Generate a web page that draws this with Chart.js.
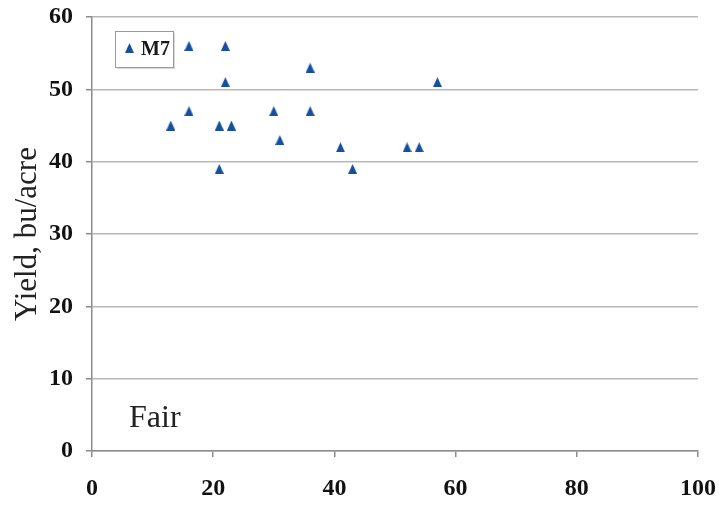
<!DOCTYPE html>
<html>
<head>
<meta charset="utf-8">
<script src="https://cdn.jsdelivr.net/npm/chart.js@4.4.1/dist/chart.umd.min.js"></script>
<style>
  html, body { margin: 0; padding: 0; background: #ffffff; }
  #wrap { width: 719px; height: 508px; position: relative; }
</style>
</head>
<body>
<div id="wrap"><canvas id="chart" width="719" height="508"></canvas></div>
<script>
// Field observations for hybrid M7
const seriesName = 'M7';
const xValues = [13, 16, 16, 21, 21, 22, 22, 23, 30, 31, 36, 36, 41, 43, 52, 54, 57];
const yieldValues = [45, 56, 47, 45, 39, 56, 51, 45, 47, 43, 53, 47, 42, 39, 42, 42, 51];
const xTicks = [0, 20, 40, 60, 80, 100];
const yTicks = [0, 10, 20, 30, 40, 50, 60];
const yTitle = 'Yield, bu/acre';
const panelLabel = 'Fair';

const markerColor = '#14509e';

// Slightly tall triangle marker
function makeTriangle(w, h, color) {
  const c = document.createElement('canvas');
  c.width = w; c.height = h;
  const g = c.getContext('2d');
  g.fillStyle = color;
  g.beginPath();
  g.moveTo(w / 2, 0);
  g.lineTo(w, h);
  g.lineTo(0, h);
  g.closePath();
  g.fill();
  return c;
}
const triangle = makeTriangle(9, 10, markerColor);

const points = xValues.map((x, i) => ({ x: x, y: yieldValues[i] }));

// Boxed legend inside the plot and the panel caption
const overlay = {
  id: 'overlay',
  afterDatasetsDraw(chart) {
    const ctx = chart.ctx;
    const a = chart.chartArea;
    ctx.save();
    // legend box
    const bx = a.left + 23, by = a.top + 14, bw = 58, bh = 36;
    ctx.fillStyle = '#d8d8d8';
    ctx.fillRect(bx + 2, by + 2, bw, bh);
    ctx.fillStyle = '#ffffff';
    ctx.fillRect(bx, by, bw, bh);
    ctx.strokeStyle = '#9a9a9a';
    ctx.lineWidth = 1;
    ctx.strokeRect(bx + 0.5, by + 0.5, bw, bh);
    const ds = chart.data.datasets[0];
    ctx.drawImage(triangle, bx + 10, by + 12);
    ctx.fillStyle = '#1a1a1a';
    ctx.font = 'bold 20px "Liberation Serif", "DejaVu Serif", serif';
    ctx.textBaseline = 'middle';
    ctx.textAlign = 'left';
    ctx.fillText(ds.label, bx + 26, by + bh / 2 + 1);
    // panel caption
    ctx.font = '32px "Liberation Serif", "DejaVu Serif", serif';
    ctx.textBaseline = 'alphabetic';
    ctx.fillStyle = '#222222';
    ctx.fillText(panelLabel, a.left + 37, a.bottom - 24);
    ctx.restore();
  }
};

const tickFont = { family: '"Liberation Serif", "DejaVu Serif", serif', size: 24, weight: 'bold' };

new Chart(document.getElementById('chart'), {
  type: 'scatter',
  data: {
    datasets: [{
      label: seriesName,
      data: points,
      pointStyle: triangle,
      backgroundColor: markerColor,
      borderColor: markerColor,
      pointRadius: 5,
      pointHoverRadius: 5
    }]
  },
  options: {
    responsive: false,
    animation: false,
    events: [],
    layout: { padding: { top: 17, right: 21, bottom: 0, left: 0 } },
    plugins: {
      legend: { display: false },
      tooltip: { enabled: false }
    },
    scales: {
      x: {
        type: 'linear',
        min: 0,
        max: 100,
        afterBuildTicks(scale) { scale.ticks = xTicks.map(v => ({ value: v })); },
        afterFit(scale) {
          scale.height = 57;
          scale.paddingLeft = 0;
          scale.paddingRight = 0;
        },
        grid: {
          drawOnChartArea: false,
          drawTicks: true,
          tickLength: 6,
          tickColor: '#8c8c8c',
          lineWidth: 1.5
        },
        border: { display: true, color: '#8c8c8c', width: 1.5 },
        ticks: {
          color: '#111111',
          font: tickFont,
          padding: 17,
          maxRotation: 0,
          autoSkip: false
        }
      },
      y: {
        type: 'linear',
        min: 0,
        max: 60,
        afterBuildTicks(scale) { scale.ticks = yTicks.map(v => ({ value: v })); },
        afterFit(scale) {
          scale.width = 92;
          scale.paddingTop = 0;
          scale.paddingBottom = 0;
        },
        grid: {
          drawOnChartArea: true,
          color: '#b8b8b8',
          lineWidth: 1.5,
          drawTicks: true,
          tickLength: 6,
          tickColor: '#8c8c8c'
        },
        border: { display: true, color: '#8c8c8c', width: 1.5 },
        ticks: {
          color: '#111111',
          font: tickFont,
          padding: 13,
          autoSkip: false
        },
        title: {
          display: true,
          text: yTitle,
          color: '#222222',
          font: { family: '"Liberation Serif", "DejaVu Serif", serif', size: 31 },
          padding: { top: 9, bottom: 0 }
        }
      }
    }
  },
  plugins: [overlay]
});
</script>
</body>
</html>
